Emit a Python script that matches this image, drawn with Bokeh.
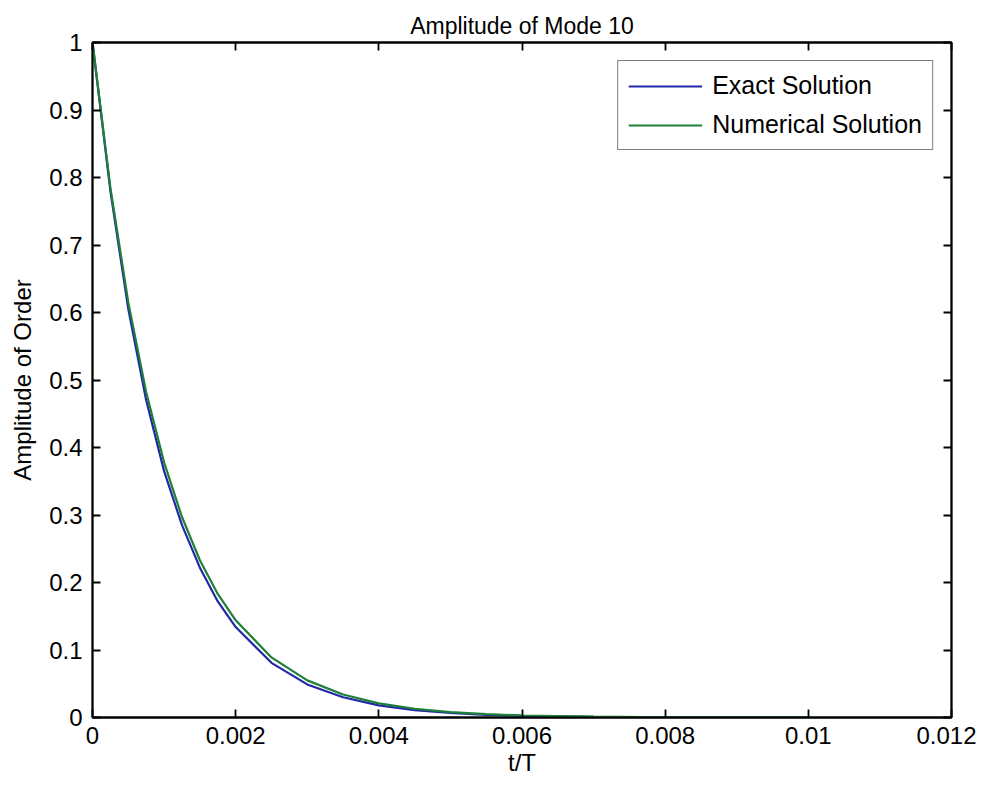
from bokeh.plotting import figure
from bokeh.models import FixedTicker, LinearAxis, Range1d, Title, Legend, LegendItem
from bokeh.embed import file_html
from bokeh.resources import INLINE

# data
t_vals = [0, 0.00025, 0.0005, 0.00075, 0.001, 0.00125, 0.0015, 0.00175, 0.002,
          0.0025, 0.003, 0.0035, 0.004, 0.0045, 0.005, 0.0055, 0.006, 0.007,
          0.008, 0.009, 0.01]
exact_vals = [1.0, 0.78, 0.605, 0.47, 0.365, 0.285, 0.222, 0.172, 0.134,
              0.081, 0.049, 0.030, 0.018, 0.011, 0.0067, 0.004, 0.0025, 0.0009,
              0.0003, 0.0001, 0.00005]
numerical_vals = [1.0, 0.785, 0.615, 0.482, 0.378, 0.297, 0.233, 0.183, 0.144,
                  0.089, 0.055, 0.034, 0.021, 0.013, 0.008, 0.005, 0.003, 0.0012,
                  0.0004, 0.00015, 0.00006]
x_ticks = [0, 0.002, 0.004, 0.006, 0.008, 0.01, 0.012]
x_tick_labels = ["0", "0.002", "0.004", "0.006", "0.008", "0.01", "0.012"]
y_ticks = [0, 0.1, 0.2, 0.3, 0.4, 0.5, 0.6, 0.7, 0.8, 0.9, 1.0]
y_tick_labels = ["0", "0.1", "0.2", "0.3", "0.4", "0.5", "0.6", "0.7", "0.8", "0.9", "1"]

FONT = "Liberation Sans"
FS = "24px"

p = figure(width=976, height=778, output_backend="svg", toolbar_location=None,
           x_range=Range1d(0, 0.012), y_range=Range1d(0, 1),
           min_border_left=92, min_border_right=25, min_border_top=42,
           min_border_bottom=59, x_axis_location=None, y_axis_location=None)
p.background_fill_color = "white"
p.border_fill_color = "white"
p.grid.visible = False
p.outline_line_color = "black"
p.outline_line_width = 1.8

def make_axis(cls_kwargs, ticks, labels, show_labels):
    ax = LinearAxis(**cls_kwargs)
    ax.ticker = FixedTicker(ticks=ticks)
    ax.major_label_overrides = {t: l for t, l in zip(ticks, labels)}
    ax.major_tick_in = 8
    ax.major_tick_out = 0
    ax.minor_tick_line_color = None
    ax.axis_line_color = "black"
    ax.axis_line_width = 1.8
    ax.major_tick_line_width = 1.8
    ax.major_label_text_font = FONT
    ax.major_label_text_font_size = FS
    ax.major_label_text_color = "black" if show_labels else None
    ax.axis_label_text_font = FONT
    ax.axis_label_text_font_size = FS
    ax.axis_label_text_font_style = "normal"
    ax.axis_label_text_color = "black"
    return ax

xb = make_axis({"axis_label": "t/T"}, x_ticks, x_tick_labels, True)
xb.major_label_standoff = 9
xb.axis_label_standoff = 2
p.add_layout(xb, "below")
yl = make_axis({"axis_label": "Amplitude of Order"}, y_ticks, y_tick_labels, True)
yl.major_label_standoff = 10
yl.axis_label_standoff = 10
p.add_layout(yl, "left")
xt = make_axis({}, x_ticks, x_tick_labels, False)
xt.major_label_text_font_size = "0px"
p.add_layout(xt, "above")
yr = make_axis({}, y_ticks, y_tick_labels, False)
yr.major_label_text_font_size = "0px"
p.add_layout(yr, "right")

title = Title(text="Amplitude of Mode 10", align="center", text_font=FONT,
              text_font_size="23px", text_font_style="normal", text_color="black",
              standoff=8)
p.add_layout(title, "above")

r_exact = p.line(t_vals, exact_vals, line_color="#2228a8", line_width=2.2)
r_num = p.line(t_vals, numerical_vals, line_color="#1d7f38", line_width=2.2)

legend = Legend(items=[LegendItem(label="Exact Solution", renderers=[r_exact]),
                       LegendItem(label="Numerical Solution", renderers=[r_num])],
                location="top_right")
legend.label_text_font = FONT
legend.label_text_font_size = "25px"
legend.label_text_color = "black"
legend.glyph_width = 74
legend.glyph_height = 28
legend.label_height = 28
legend.label_standoff = 10
legend.spacing = 10
legend.padding = 10
legend.margin = 18
legend.border_line_color = "black"
legend.border_line_width = 1.5
legend.background_fill_alpha = 1
p.add_layout(legend, "center")

open("out.html", "w").write(file_html(p, INLINE))
